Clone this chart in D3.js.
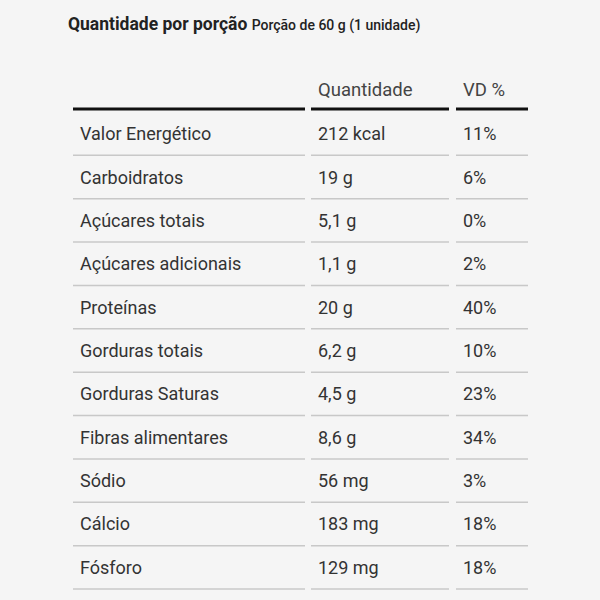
<!DOCTYPE html><html><head><meta charset="utf-8"><script src="https://cdn.jsdelivr.net/npm/d3@7"></script>
<style>body{margin:0;background:#f5f5f5}</style></head><body><svg width="600" height="600"></svg>
<script>
const nutrients=["Valor Energético","Carboidratos","Açúcares totais","Açúcares adicionais","Proteínas","Gorduras totais","Gorduras Saturas","Fibras alimentares","Sódio","Cálcio","Fósforo"];
const amounts=["212 kcal","19 g","5,1 g","1,1 g","20 g","6,2 g","4,5 g","8,6 g","56 mg","183 mg","129 mg"];
const vd=["11%","6%","0%","2%","40%","10%","23%","34%","3%","18%","18%"];
const headers=["","Quantidade","VD %"];
const svg=d3.select("svg");
svg.append("rect").attr("width",600).attr("height",600).attr("fill","#f5f5f5");
const t=svg.append("text").attr("x",68).attr("y",30).attr("font-family","Roboto").attr("fill","#222");
t.append("tspan").attr("font-weight","bold").attr("font-size",17.5).text("Quantidade por porção ");
t.append("tspan").attr("font-size",14).attr("font-weight","500").text("Porção de 60 g (1 unidade)");
const cols=[[73,305],[311,449],[456,528]];
const y=d3.scaleBand().domain(d3.range(nutrients.length)).range([112,589]);
const f="Roboto";
headers.forEach((h,i)=>{
 svg.append("text").attr("x",cols[i][0]+7).attr("y",96).attr("font-family",f).attr("font-size",18.5).attr("fill","#444").text(h);
 svg.append("line").attr("x1",cols[i][0]).attr("x2",cols[i][1]).attr("y1",109).attr("y2",109).attr("stroke","#111").attr("stroke-width",3);
});
const cells=[nutrients,amounts,vd];
nutrients.forEach((_,r)=>{
 cells.forEach((arr,i)=>{
  svg.append("text").attr("x",cols[i][0]+7).attr("y",y(r)+y.bandwidth()/2+6.5).attr("font-family",f).attr("font-size",18).attr("fill","#333").text(arr[r]);
  svg.append("line").attr("x1",cols[i][0]).attr("x2",cols[i][1]).attr("y1",y(r)+y.bandwidth()).attr("y2",y(r)+y.bandwidth()).attr("stroke","#c8c8c8").attr("stroke-width",1.5);
 });
});
</script></body></html>
